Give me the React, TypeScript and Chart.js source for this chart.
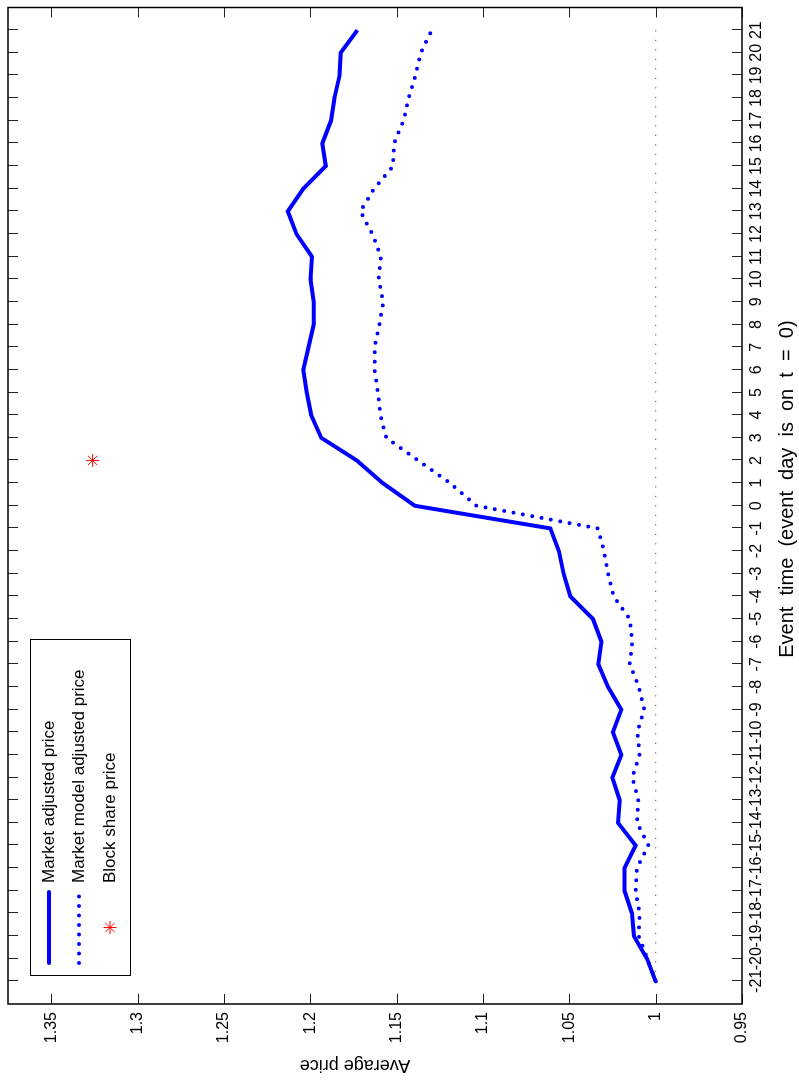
import React, { useEffect, useRef } from 'react';
import { Chart, registerables } from 'chart.js';

Chart.register(...registerables);

const EVENT_DAYS = [-21, -20, -19, -18, -17, -16, -15, -14, -13, -12, -11, -10, -9, -8, -7, -6, -5, -4, -3, -2, -1, 0, 1, 2, 3, 4, 5, 6, 7, 8, 9, 10, 11, 12, 13, 14, 15, 16, 17, 18, 19, 20, 21];

const MARKET_ADJUSTED = [
  1.0, 1.005, 1.0126, 1.0137, 1.018, 1.018, 1.0116, 1.0218, 1.0208, 1.0251, 1.0199,
  1.0247, 1.0199, 1.0276, 1.0332, 1.0314, 1.0363, 1.0494, 1.0533, 1.056, 1.061,
  1.1395, 1.158, 1.173, 1.1936, 1.1994, 1.202, 1.204, 1.201, 1.198, 1.198,
  1.1998, 1.199, 1.208, 1.213, 1.204, 1.191, 1.193, 1.188, 1.186, 1.183, 1.1824, 1.1727,
];

const MODEL_ADJUSTED = [
  1.0, 1.0048, 1.0098, 1.0093, 1.0116, 1.0108, 1.0042, 1.0108, 1.01, 1.0135, 1.0093,
  1.0106, 1.0066, 1.0097, 1.015, 1.0135, 1.015, 1.0243, 1.0276, 1.03, 1.0334,
  1.1038, 1.119, 1.1376, 1.156, 1.1594, 1.1608, 1.1627, 1.1627, 1.16, 1.1577,
  1.1604, 1.159, 1.164, 1.171, 1.163, 1.152, 1.1515, 1.146, 1.143, 1.139, 1.136, 1.1297,
];

const BLOCK_DAYS = [2];
const BLOCK_PRICES = [1.326];

const BASELINE_DAYS = [-21, 21];
const BASELINE_PRICES = [1, 1];

const PRICE_TICKS = [0.95, 1, 1.05, 1.1, 1.15, 1.2, 1.25, 1.3, 1.35];
const PRICE_TICK_LABELS = ['0.95', '1', '1.05', '1.1', '1.15', '1.2', '1.25', '1.3', '1.35'];

const SERIES_NAMES = ['Market adjusted price', 'Market model adjusted price', 'Block share price'];
const X_TITLE = '      Event  time  (event  day  is  on  t  =  0)';
const Y_TITLE = '        Average price';

const FONT = '"Liberation Sans", Arial, Helvetica, sans-serif';
const BLUE = '#0000ff';
const RED = '#ff0000';

const DOT_DASH = [0, 9.5];

const frameTicksPlugin = {
  id: 'frameTicks',
  afterDatasetsDraw(chart: any) {
    const { ctx, chartArea, scales } = chart;
    const { left, right, top, bottom } = chartArea;
    const xs = scales.x;
    const ys = scales.y;
    const len = 10;
    ctx.save();
    ctx.strokeStyle = '#222';
    ctx.lineWidth = 1;
    ctx.beginPath();
    xs.ticks.forEach((t: any) => {
      const p = Math.round(xs.getPixelForValue(t.value)) + 0.5;
      ctx.moveTo(p, bottom);
      ctx.lineTo(p, bottom - len);
      ctx.moveTo(p, top);
      ctx.lineTo(p, top + len);
    });
    ys.ticks.forEach((t: any) => {
      const p = Math.round(ys.getPixelForValue(t.value)) + 0.5;
      ctx.moveTo(left, p);
      ctx.lineTo(left + len, p);
      ctx.moveTo(right, p);
      ctx.lineTo(right - len, p);
    });
    ctx.stroke();
    ctx.strokeStyle = '#000';
    ctx.lineWidth = 1.5;
    ctx.strokeRect(left, top, right - left, bottom - top);
    ctx.restore();
  },
};

const legendPlugin = {
  id: 'boxLegend',
  afterDraw(chart: any) {
    const { ctx, chartArea } = chart;
    const bx = chartArea.left + 28;
    const by = chartArea.top + 22;
    const bw = 336;
    const bh = 100;
    ctx.save();
    ctx.fillStyle = '#fff';
    ctx.fillRect(bx, by, bw, bh);
    ctx.strokeStyle = '#000';
    ctx.lineWidth = 1;
    ctx.strokeRect(bx + 0.5, by + 0.5, bw, bh);

    const x0 = bx + 13;
    const x1 = bx + 84;
    const rows = [by + 19, by + 49, by + 80];

    ctx.strokeStyle = BLUE;
    ctx.lineWidth = 4;
    ctx.lineCap = 'round';
    ctx.beginPath();
    ctx.moveTo(x0, rows[0]);
    ctx.lineTo(x1, rows[0]);
    ctx.stroke();

    ctx.setLineDash(DOT_DASH);
    ctx.beginPath();
    ctx.moveTo(x0, rows[1]);
    ctx.lineTo(x1, rows[1]);
    ctx.stroke();
    ctx.setLineDash([]);

    const cx = (x0 + x1) / 2;
    const cy = rows[2];
    const r = 6.5;
    const d = r * Math.SQRT1_2;
    ctx.strokeStyle = RED;
    ctx.lineWidth = 1;
    ctx.lineCap = 'butt';
    ctx.beginPath();
    ctx.moveTo(cx - r, cy);
    ctx.lineTo(cx + r, cy);
    ctx.moveTo(cx, cy - r);
    ctx.lineTo(cx, cy + r);
    ctx.moveTo(cx - d, cy - d);
    ctx.lineTo(cx + d, cy + d);
    ctx.moveTo(cx - d, cy + d);
    ctx.lineTo(cx + d, cy - d);
    ctx.stroke();

    ctx.fillStyle = '#000';
    ctx.font = `17px ${FONT}`;
    ctx.textAlign = 'left';
    ctx.textBaseline = 'middle';
    SERIES_NAMES.forEach((name, i) => {
      ctx.fillText(name, bx + 93, rows[i]);
    });
    ctx.restore();
  },
};

export default function App() {
  const ref = useRef<HTMLCanvasElement>(null);

  useEffect(() => {
    document.body.style.margin = '0';
    document.body.style.overflow = 'hidden';
    const canvas = ref.current;
    if (!canvas) return;

    const chart = new Chart(canvas, {
      type: 'line',
      data: {
        datasets: [
          {
            label: SERIES_NAMES[0],
            data: EVENT_DAYS.map((d, i) => ({ x: d, y: MARKET_ADJUSTED[i] })),
            borderColor: BLUE,
            borderWidth: 4,
            pointRadius: 0,
            tension: 0,
            borderJoinStyle: 'miter',
            fill: false,
          },
          {
            label: SERIES_NAMES[1],
            data: EVENT_DAYS.map((d, i) => ({ x: d, y: MODEL_ADJUSTED[i] })),
            borderColor: BLUE,
            borderWidth: 4,
            borderDash: DOT_DASH,
            borderCapStyle: 'round',
            pointRadius: 0,
            tension: 0,
            fill: false,
          },
          {
            label: SERIES_NAMES[2],
            data: BLOCK_DAYS.map((d, i) => ({ x: d, y: BLOCK_PRICES[i] })),
            showLine: false,
            borderColor: RED,
            backgroundColor: RED,
            pointStyle: 'star',
            pointRadius: 6.5,
            pointBorderWidth: 1,
            pointBorderColor: RED,
          },
          {
            label: 'baseline',
            data: BASELINE_DAYS.map((d, i) => ({ x: d, y: BASELINE_PRICES[i] })),
            borderColor: '#555',
            borderWidth: 1.2,
            borderDash: [1, 8.5],
            pointRadius: 0,
            fill: false,
          },
        ],
      },
      options: {
        responsive: false,
        animation: false,
        events: [],
        layout: { padding: { top: 8, right: 4, left: 0, bottom: 0 } },
        plugins: {
          legend: { display: false },
          tooltip: { enabled: false },
        },
        scales: {
          x: {
            type: 'linear',
            position: 'bottom',
            min: -22,
            max: 22,
            afterBuildTicks: (s: any) => {
              s.ticks = EVENT_DAYS.map((v) => ({ value: v }));
            },
            afterFit: (s: any) => {
              s.height = 57;
              s.paddingLeft = 0;
              s.paddingRight = 0;
              s.paddingTop = 0;
              s.paddingBottom = 0;
            },
            grid: { display: false, drawTicks: false },
            border: { display: false },
            ticks: {
              autoSkip: false,
              maxRotation: 0,
              minRotation: 0,
              padding: 5,
              color: '#000',
              font: { family: FONT, size: 16 },
              callback: (v: any) => String(v),
            },
            title: {
              display: true,
              text: X_TITLE,
              color: '#000',
              font: { family: FONT, size: 20 },
              padding: { top: 0, bottom: 0 },
            },
          },
          y: {
            type: 'linear',
            position: 'left',
            min: 0.95,
            max: 1.375,
            afterBuildTicks: (s: any) => {
              s.ticks = PRICE_TICKS.map((v) => ({ value: v }));
            },
            afterFit: (s: any) => {
              s.width = 79;
              s.paddingLeft = 0;
              s.paddingRight = 0;
              s.paddingTop = 0;
              s.paddingBottom = 0;
            },
            grid: { display: false, drawTicks: false },
            border: { display: false },
            ticks: {
              autoSkip: false,
              padding: 8,
              color: '#000',
              font: { family: FONT, size: 16 },
              callback: (v: any) => {
                const i = PRICE_TICKS.findIndex((p) => Math.abs(p - v) < 1e-9);
                return i >= 0 ? PRICE_TICK_LABELS[i] : '';
              },
            },
            title: {
              display: true,
              text: Y_TITLE,
              color: '#000',
              font: { family: FONT, size: 18 },
              padding: { top: 7, bottom: 0 },
            },
          },
        },
      },
      plugins: [frameTicksPlugin, legendPlugin],
    } as any);

    return () => chart.destroy();
  }, []);

  return (
    <div
      style={{
        position: 'absolute',
        left: 0,
        top: 0,
        width: 799,
        height: 1083,
        overflow: 'hidden',
        background: '#fff',
      }}
    >
      <canvas
        ref={ref}
        width={1083}
        height={799}
        style={{
          position: 'absolute',
          left: 0,
          top: 0,
          width: 1083,
          height: 799,
          transformOrigin: '0 0',
          transform: 'translateY(1083px) rotate(-90deg)',
        }}
      />
    </div>
  );
}
